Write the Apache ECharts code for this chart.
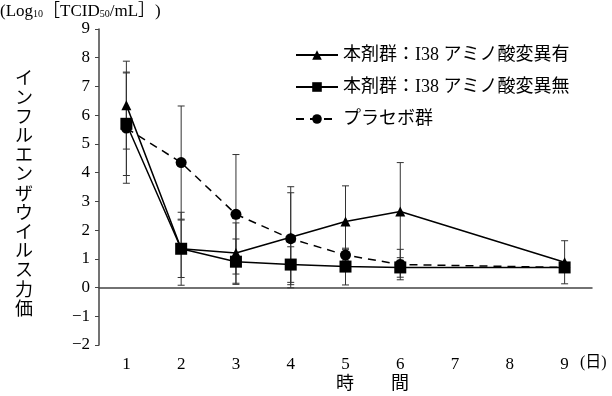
<!DOCTYPE html>
<html>
<head>
<meta charset="utf-8">
<script src="https://cdn.jsdelivr.net/npm/echarts@6/dist/echarts.min.js"></script>
<style>
  html, body { margin: 0; padding: 0; background: #fff; }
  #main { width: 612px; height: 396px; }
</style>
</head>
<body>
<div id="main"></div>
<script>
var FONT = '"Liberation Serif", "Noto Sans CJK JP", serif';

// 時間（日）
var days = ['1', '2', '3', '4', '5', '6', '7', '8', '9'];
// 本剤群：I38 アミノ酸変異有
var withMut = [6.35, 1.35, 1.2, 1.75, 2.3, 2.65, null, null, 0.88];
var withMutSd = [1.53, 1.27, 1.05, 1.76, 1.24, 1.7, null, null, 0.75];
// 本剤群：I38 アミノ酸変異無
var noMut = [5.7, 1.35, 0.9, 0.8, 0.73, 0.7, null, null, 0.7];
var noMutSd = [1.8, 1.0, 0.79, 0.62, 0.64, 0.34, null, null, 0.15];
// プラセボ群
var placebo = [5.55, 4.35, 2.55, 1.7, 1.13, 0.8, null, null, 0.7];
var placeboSd = [1.92, 1.97, 2.08, 1.6, 0.2, 0.53, null, null, 0.15];

var names = ['本剤群：I38 アミノ酸変異有', '本剤群：I38 アミノ酸変異無', 'プラセボ群'];

function errData(vals, sds) {
  var out = [];
  for (var i = 0; i < vals.length; i++) {
    if (vals[i] == null) continue;
    out.push([i, vals[i] - sds[i], vals[i] + sds[i]]);
  }
  return out;
}

function errSeries(vals, sds) {
  return {
    type: 'custom',
    z: 1,
    silent: true,
    data: errData(vals, sds),
    renderItem: function (params, api) {
      var lo = api.coord([api.value(0), api.value(1)]);
      var hi = api.coord([api.value(0), api.value(2)]);
      var w = 3.5;
      var st = { stroke: '#333', lineWidth: 1 };
      return {
        type: 'group',
        children: [
          { type: 'line', shape: { x1: hi[0], y1: hi[1], x2: lo[0], y2: lo[1] }, style: st },
          { type: 'line', shape: { x1: hi[0] - w, y1: hi[1], x2: hi[0] + w, y2: hi[1] }, style: st },
          { type: 'line', shape: { x1: lo[0] - w, y1: lo[1], x2: lo[0] + w, y2: lo[1] }, style: st }
        ]
      };
    }
  };
}

function lineSeries(name, vals, symbol, size, dashed) {
  return {
    name: name,
    type: 'line',
    z: 3,
    data: vals,
    connectNulls: true,
    symbol: symbol,
    symbolSize: size,
    itemStyle: { color: '#000' },
    lineStyle: { color: '#000', width: 1.5, type: dashed ? [8, 6] : 'solid' }
  };
}

var myChart = echarts.init(document.getElementById('main'));

myChart.setOption({
  animation: false,
  grid: { left: 99, right: 20, top: 29, bottom: 51 },
  legend: {
    data: names,
    orient: 'vertical',
    left: 290,
    top: 41,
    itemWidth: 42,
    itemHeight: 12,
    itemGap: 14,
    textStyle: { fontFamily: FONT, fontSize: 18, color: '#000' }
  },
  xAxis: {
    type: 'category',
    data: days,
    boundaryGap: true,
    axisLine: { lineStyle: { color: '#444', width: 1.5 } },
    axisTick: { show: false },
    axisLabel: { fontFamily: FONT, fontSize: 17, color: '#000', margin: 11 }
  },
  yAxis: {
    type: 'value',
    min: -2,
    max: 9,
    interval: 1,
    splitLine: { show: false },
    axisLine: { show: true, lineStyle: { color: '#444', width: 1.5 } },
    axisTick: { show: true, inside: false, length: 4, lineStyle: { color: '#444' } },
    axisLabel: {
      fontFamily: FONT, fontSize: 17, color: '#000', margin: 9,
      formatter: function (v) { return v < 0 ? '−' + (-v) : String(v); }
    }
  },
  graphic: [
    {
      type: 'text', left: 0, top: 3,
      style: {
        text: '(Log{s|10}［TCID{s|50}/mL］)',
        font: '17px ' + FONT,
        fill: '#000',
        rich: { s: { fontSize: 10, fontFamily: FONT, padding: [6, 0, 0, 0] } }
      }
    },
    {
      type: 'text', left: 15, top: 68,
      style: {
        text: 'インフルエンザウイルス力価'.split('').join('\n'),
        font: '18px "Noto Sans CJK JP"',
        lineHeight: 19.2,
        fill: '#000'
      }
    },
    { type: 'text', left: 580, top: 355, style: { text: '(日)', font: '16px ' + FONT, fill: '#000' } },
    { type: 'text', left: 336, top: 373, style: { text: '時', font: '18px "Noto Sans CJK JP"', fill: '#000' } },
    { type: 'text', left: 391, top: 373, style: { text: '間', font: '18px "Noto Sans CJK JP"', fill: '#000' } }
  ],
  series: [
    errSeries(withMut, withMutSd),
    errSeries(noMut, noMutSd),
    errSeries(placebo, placeboSd),
    lineSeries(names[0], withMut, 'triangle', 10, false),
    lineSeries(names[1], noMut, 'rect', 12, false),
    lineSeries(names[2], placebo, 'circle', 11, true)
  ]
});
</script>
</body>
</html>
